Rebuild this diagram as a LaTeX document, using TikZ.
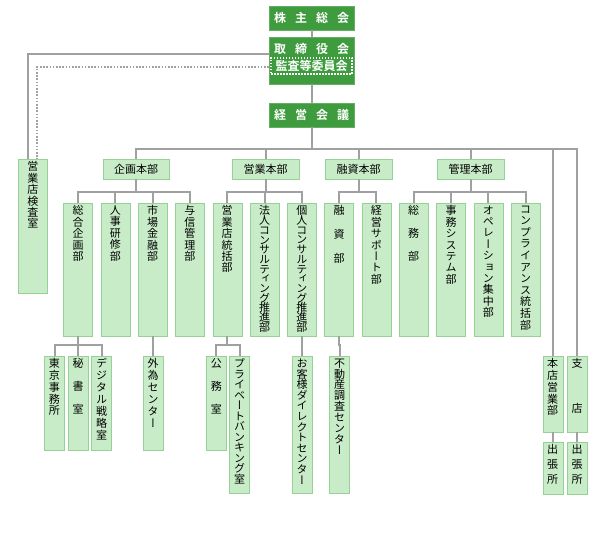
\documentclass[tikz,border=0pt]{standalone}
\usepackage{fontspec}
\setmainfont{Noto Sans CJK JP}[BoldFont={Noto Sans CJK JP Bold}]
\newfontfamily\vjp{Noto Sans CJK JP}[RawFeature=+vert]
\usetikzlibrary{positioning}

\definecolor{topgreen}{RGB}{62,155,62}
\definecolor{boxfill}{RGB}{200,236,200}
\definecolor{boxline}{RGB}{150,210,150}
\definecolor{connline}{RGB}{160,160,160}

\newcommand\vt[3][11.4pt]{\parbox[c][#2][t]{20pt}{\vjp\fontsize{11pt}{#1}\selectfont\lineskiplimit=-6pt\centering\vspace*{2.5pt}#3}}
\newcommand\tsp{\hspace{9pt}}

\tikzset{
  govbox/.style={draw=topgreen!80!white, fill=topgreen, text=white, font=\bfseries\fontsize{12pt}{14pt}\selectfont, minimum width=85pt, inner sep=0pt},
  hq/.style={draw=boxline, fill=boxfill, font=\fontsize{11pt}{13pt}\selectfont, minimum width=66.5pt, minimum height=20pt, inner sep=0pt},
  dept/.style={draw=boxline, fill=boxfill, anchor=north, minimum width=29pt, inner sep=0pt},
  sect/.style={dept, minimum width=20pt},
  conn/.style={draw=connline, line width=2pt},
  dotconn/.style={draw=connline, line width=1.6pt, dash pattern=on 1.6pt off 1.6pt},
}

\begin{document}
\begin{tikzpicture}[x=1pt, y=-1pt]
\useasboundingbox (0,0) rectangle (600,548);

\node[govbox, minimum height=24pt] (kabu) at (311.5,18) {株\tsp{}主\tsp{}総\tsp{}会};
\node[govbox, minimum height=47pt] (tori) at (311.5,60.5) {};
\node[text=white, font=\bfseries\fontsize{12pt}{14pt}\selectfont, inner sep=0pt] (torit) at (311.5,48.5) {取\tsp{}締\tsp{}役\tsp{}会};
\node[draw=white, line width=1.5pt, dash pattern=on 1.5pt off 1.5pt, text=white, font=\bfseries\fontsize{12pt}{14pt}\selectfont, minimum width=81pt, minimum height=16pt, inner sep=0pt] (kansa) at (311.5,66) {監査等委員会};
\node[govbox, minimum height=24pt] (keiei) at (311.5,115) {経\tsp{}営\tsp{}会\tsp{}議};

\draw[conn] (kabu.south) -- (tori.north);
\draw[conn] (tori.south) -- (keiei.north);

\node[dept] (kensa) at (33,159) {\vt{134pt}{営\\業\\店\\検\\査\\室}};
\draw[conn] ([yshift=6pt]tori.west) -| ([xshift=-5pt]kensa.north);
\draw[dotconn] ([yshift=-6.5pt]tori.west) -| ([xshift=4pt]kensa.north);

\node[hq] (kikaku) at (136,169) {企画本部};
\node[hq] (eigyo) at (265.5,169) {営業本部};
\node[hq] (yushi) at (358.5,169) {融資本部};
\node[hq] (kanri) at (470.5,169) {管理本部};

\node[dept] (sogo) at (78,203) {\vt{133pt}{総\\合\\企\\画\\部}};
\node[dept] (jinji) at (115.3,203) {\vt{133pt}{人\\事\\研\\修\\部}};
\node[dept] (shijo) at (152.6,203) {\vt{133pt}{市\\場\\金\\融\\部}};
\node[dept] (yoshin) at (189.9,203) {\vt{133pt}{与\\信\\管\\理\\部}};
\node[dept] (tokatsu) at (227.2,203) {\vt{133pt}{営\\業\\店\\統\\括\\部}};
\node[dept] (hojin) at (264.5,203) {\vt[9.7pt]{133pt}{法\\人\\コ\\ン\\サ\\ル\\テ\\ィ\\ン\\グ\\推\\進\\部}};
\node[dept] (kojin) at (301.8,203) {\vt[9.7pt]{133pt}{個\\人\\コ\\ン\\サ\\ル\\テ\\ィ\\ン\\グ\\推\\進\\部}};
\node[dept] (yushibu) at (339.1,203) {\vt{133pt}{融\\[12.6pt]資\\[12.6pt]部}};
\node[dept] (support) at (376.4,203) {\vt{133pt}{経\\営\\サ\\ポ\\ー\\ト\\部}};
\node[dept] (somu) at (413.7,203) {\vt{133pt}{総\\[11.6pt]務\\[11.6pt]部}};
\node[dept] (jimu) at (451,203) {\vt{133pt}{事\\務\\シ\\ス\\テ\\ム\\部}};
\node[dept] (ope) at (488.3,203) {\vt{133pt}{オ\\ペ\\レ\\ー\\シ\\ョ\\ン\\集\\中\\部}};
\node[dept] (comp) at (525.6,203) {\vt[11.6pt]{133pt}{コ\\ン\\プ\\ラ\\イ\\ア\\ン\\ス\\統\\括\\部}};

\node[sect] (tokyo) at (54.5,356) {\vt[11.7pt]{94pt}{東\\京\\事\\務\\所}};
\node[sect] (hisho) at (78,356) {\vt{94pt}{秘\\[11.6pt]書\\[11.6pt]室}};
\node[sect] (digital) at (101.5,356) {\vt[11.9pt]{94pt}{デ\\ジ\\タ\\ル\\戦\\略\\室}};
\node[sect] (gaitame) at (153,356) {\vt[11.9pt]{94pt}{外\\為\\セ\\ン\\タ\\ー}};
\node[sect] (komu) at (216.3,356) {\vt{94pt}{公\\[11.6pt]務\\[11.6pt]室}};
\node[sect] (private) at (239.5,356) {\vt[10.5pt]{137pt}{プ\\ラ\\イ\\ベ\\ー\\ト\\バ\\ン\\キ\\ン\\グ\\室}};
\node[sect] (okyaku) at (302,356) {\vt[10.6pt]{137pt}{お\\客\\様\\ダ\\イ\\レ\\ク\\ト\\セ\\ン\\タ\\ー}};
\node[sect] (fudosan) at (339.5,356) {\vt[10.9pt]{137pt}{不\\動\\産\\調\\査\\セ\\ン\\タ\\ー}};
\node[sect] (honten) at (552.7,356) {\vt[11.7pt]{76pt}{本\\店\\営\\業\\部}};
\node[sect] (shiten) at (577,356) {\vt{76pt}{支\\[33.6pt]店}};
\node[sect] (shucho1) at (552.7,442) {\vt{52pt}{出\\[3.6pt]張\\[3.6pt]所}};
\node[sect] (shucho2) at (577,442) {\vt{52pt}{出\\[3.6pt]張\\[3.6pt]所}};

\coordinate (bus) at (311.5,149);
\draw[conn] (keiei.south) -- (bus);
\draw[conn] (bus) -| (kikaku.north);
\draw[conn] (bus) -| (eigyo.north);
\draw[conn] (bus) -| (yushi.north);
\draw[conn] (bus) -| (kanri.north);
\draw[conn] (bus) -| (honten.north);
\draw[conn] (bus) -| (shiten.north);

\draw[conn] (kikaku.south) -- ++(0,12.5) -| (sogo.north);
\draw[conn] (kikaku.south) -- ++(0,12.5) -| (jinji.north);
\draw[conn] (kikaku.south) -- ++(0,12.5) -| (shijo.north);
\draw[conn] (kikaku.south) -- ++(0,12.5) -| (yoshin.north);
\draw[conn] (eigyo.south) -- ++(0,12.5) -| (tokatsu.north);
\draw[conn] (eigyo.south) -- ++(0,12.5) -| (hojin.north);
\draw[conn] (eigyo.south) -- ++(0,12.5) -| (kojin.north);
\draw[conn] (yushi.south) -- ++(0,12.5) -| (yushibu.north);
\draw[conn] (yushi.south) -- ++(0,12.5) -| (support.north);
\draw[conn] (kanri.south) -- ++(0,12.5) -| (somu.north);
\draw[conn] (kanri.south) -- ++(0,12.5) -| (jimu.north);
\draw[conn] (kanri.south) -- ++(0,12.5) -| (ope.north);
\draw[conn] (kanri.south) -- ++(0,12.5) -| (comp.north);

\draw[conn] (sogo.south) -- ++(0,9) -| (tokyo.north);
\draw[conn] (sogo.south) -- ++(0,9) -| (hisho.north);
\draw[conn] (sogo.south) -- ++(0,9) -| (digital.north);
\draw[conn] (shijo.south) -- ++(0,9) -| (gaitame.north);
\draw[conn] (tokatsu.south) -- ++(0,9) -| (komu.north);
\draw[conn] (tokatsu.south) -- ++(0,9) -| (private.north);
\draw[conn] (kojin.south) -- ++(0,9) -| (okyaku.north);
\draw[conn] (yushibu.south) -- ++(0,9) -| (fudosan.north);
\draw[conn] (honten.south) -- (shucho1.north);
\draw[conn] (shiten.south) -- (shucho2.north);

\end{tikzpicture}
\end{document}
